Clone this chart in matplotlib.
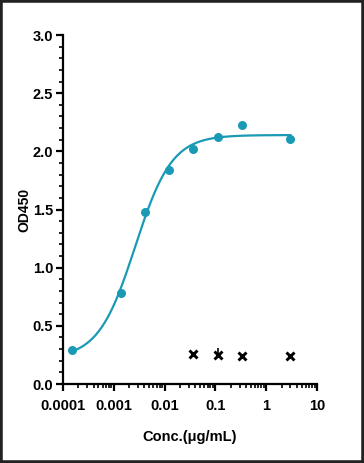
import numpy as np
import matplotlib
matplotlib.use("Agg")
import matplotlib.pyplot as plt
from matplotlib.patches import Rectangle
from matplotlib.ticker import LogLocator, MultipleLocator, FixedLocator

plt.rcParams['font.family'] = ['Liberation Sans', 'DejaVu Sans']

# datos
conc = [0.00015, 0.00137, 0.0041, 0.0122, 0.037, 0.111, 0.333, 3.0]
od = [0.29, 0.78, 1.48, 1.84, 2.02, 2.12, 2.23, 2.11]

conc_neg = [0.037, 0.111, 0.333, 3.0]
od_neg = [0.255, 0.25, 0.245, 0.24]
err_neg = [0.0, 0.06, 0.0, 0.0]

x_ticks = [0.0001, 0.001, 0.01, 0.1, 1, 10]
x_labels = ["0.0001", "0.001", "0.01", "0.1", "1", "10"]

color = "#1a9ab5"


def four_pl(x, bottom, top, logec50, hill):
    return bottom + (top - bottom) / (1 + 10 ** ((logec50 - np.log10(x)) * hill))


# ajuste 4PL por busqueda en rejilla
x = np.array(conc)
y = np.array(od)
B = np.linspace(0.0, 0.45, 46)[:, None, None, None, None]
T = np.linspace(2.0, 2.3, 31)[None, :, None, None, None]
L = np.linspace(-3.2, -2.2, 51)[None, None, :, None, None]
H = np.linspace(0.8, 2.2, 36)[None, None, None, :, None]
pred = four_pl(x[None, None, None, None, :], B, T, L, H)
sse = ((pred - y) ** 2).sum(axis=-1)
i = np.unravel_index(np.argmin(sse), sse.shape)
params = (B.ravel()[i[0]], T.ravel()[i[1]], L.ravel()[i[2]], H.ravel()[i[3]])

xs = np.logspace(np.log10(min(conc)), np.log10(max(conc)), 300)

fig = plt.figure(figsize=(3.64, 4.63), dpi=100)
ax = fig.add_axes([0.173, 0.1706, 0.698, 0.7538])

ax.plot(xs, four_pl(xs, *params), color=color, lw=1.6, zorder=2)
ax.plot(conc, od, "o", color=color, ms=6.5, mec="none", zorder=3)
ax.errorbar(conc_neg, od_neg, yerr=[[0] * 4, err_neg], fmt="x", color="black",
            ms=5.5, mew=2.1, elinewidth=1.2, capsize=0, zorder=3)

ax.set_xscale("log")
ax.set_xlim(0.0001, 10)
ax.set_ylim(0, 3.0)
ax.xaxis.set_major_locator(FixedLocator(x_ticks))
ax.set_xticklabels(x_labels)
ax.xaxis.set_minor_locator(LogLocator(base=10, subs=np.arange(2, 10)))
ax.xaxis.set_minor_formatter(plt.NullFormatter())
ax.yaxis.set_major_locator(MultipleLocator(0.5))
ax.yaxis.set_minor_locator(MultipleLocator(0.1))
ax.yaxis.set_major_formatter(plt.FormatStrFormatter("%.1f"))

for s in ["top", "right"]:
    ax.spines[s].set_visible(False)
for s in ["left", "bottom"]:
    ax.spines[s].set_linewidth(1.6)
ax.tick_params(which="major", length=5, width=1.6, labelsize=10.5)
ax.tick_params(axis="x", which="major", pad=6)
ax.tick_params(axis="y", which="major", pad=2)
ax.tick_params(which="minor", length=3, width=1.2)
for lab in ax.get_xticklabels() + ax.get_yticklabels():
    lab.set_fontweight("bold")

ax.set_xlabel("Conc.(μg/mL)", fontsize=10.5, fontweight="bold", labelpad=12)
ax.set_ylabel("OD450", fontsize=10, fontweight="bold", labelpad=1)

# marco exterior
fig.patches.append(Rectangle((0, 0), 1, 1, transform=fig.transFigure,
                             fill=False, edgecolor="#222222", lw=4))

plt.savefig("out.png", dpi=100)
